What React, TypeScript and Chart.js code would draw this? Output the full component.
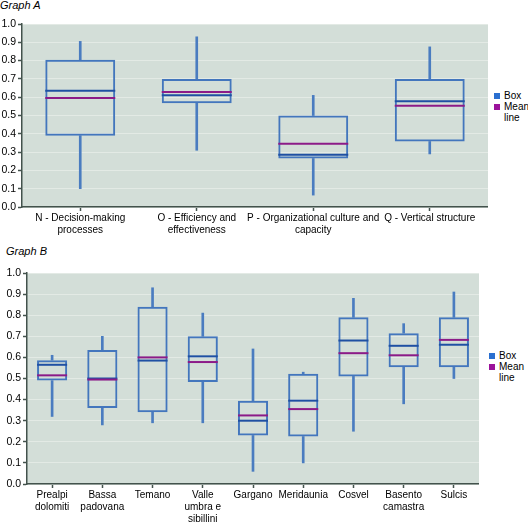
import React, { useEffect, useRef } from "react";
import { Chart, registerables } from "chart.js";

Chart.register(...registerables);

// ---------- Graph A data ----------
const catsA: (string | string[])[] = [
  ["N - Decision-making", "processes"],
  ["O - Efficiency and", "effectiveness"],
  ["P - Organizational culture and", "capacity"],
  "Q - Vertical structure",
];
const minA = [0.1, 0.31, 0.065, 0.29];
const q1A = [0.39, 0.567, 0.265, 0.358];
const medA = [0.635, 0.61, 0.285, 0.578];
const meanA = [0.595, 0.628, 0.345, 0.553];
const q3A = [0.805, 0.7, 0.5, 0.7];
const maxA = [0.905, 0.93, 0.61, 0.875];

// ---------- Graph B data ----------
const catsB: (string | string[])[] = [
  ["Prealpi", "dolomiti"],
  ["Bassa", "padovana"],
  "Temano",
  ["Valle", "umbra e", "sibillini"],
  "Gargano",
  "Meridaunia",
  "Cosvel",
  ["Basento", "camastra"],
  "Sulcis",
];
const minB = [0.32, 0.28, 0.29, 0.29, 0.06, 0.1, 0.25, 0.38, 0.5];
const q1B = [0.49, 0.36, 0.34, 0.483, 0.23, 0.225, 0.51, 0.553, 0.553];
const medB = [0.565, 0.5, 0.585, 0.605, 0.3, 0.395, 0.68, 0.655, 0.66];
const meanB = [0.515, 0.495, 0.6, 0.578, 0.325, 0.355, 0.62, 0.61, 0.683];
const q3B = [0.587, 0.635, 0.84, 0.7, 0.395, 0.523, 0.79, 0.715, 0.79];
const maxB = [0.61, 0.7, 0.93, 0.81, 0.64, 0.53, 0.88, 0.76, 0.91];

const yTicks = [0, 0.1, 0.2, 0.3, 0.4, 0.5, 0.6, 0.7, 0.8, 0.9, 1.0];

const BOX = "#4376bd";
const WHISK = "#4a7cc0";
const MED = "#1f50a3";
const MEAN = "#8c1b88";
const AXIS = "#43524c";
const FONT = "'Liberation Sans', Arial, sans-serif";

const bgPlugin = {
  id: "plotBg",
  beforeDraw(chart: any) {
    const { ctx, chartArea } = chart;
    if (!chartArea) return;
    ctx.save();
    ctx.fillStyle = "#d3ded8";
    ctx.fillRect(chartArea.left, chartArea.top, chartArea.right - chartArea.left, chartArea.bottom - chartArea.top);
    ctx.restore();
  },
};

type BoxProps = {
  labels: (string | string[])[];
  mins: number[];
  q1s: number[];
  meds: number[];
  means: number[];
  q3s: number[];
  maxs: number[];
  width: number;
  height: number;
  yWidth: number;
  xHeight: number;
  padTop: number;
  lineR: number;
  style: React.CSSProperties;
};

function BoxChart(p: BoxProps) {
  const ref = useRef<HTMLCanvasElement | null>(null);
  useEffect(() => {
    if (!ref.current) return;
    const lineDs = (data: number[], color: string) => ({
      type: "line" as const,
      data,
      showLine: false,
      pointStyle: "line",
      pointRadius: p.lineR,
      pointHoverRadius: p.lineR,
      pointBorderColor: color,
      pointBackgroundColor: color,
      pointBorderWidth: 2,
      borderColor: color,
      clip: false,
    });
    const chart = new Chart(ref.current, {
      type: "bar",
      data: {
        labels: p.labels as any,
        datasets: [
          lineDs(p.means, MEAN) as any,
          lineDs(p.meds, MED) as any,
          {
            type: "bar",
            data: p.q1s.map((v, i) => [v, p.q3s[i]]),
            backgroundColor: "rgba(0,0,0,0)",
            borderColor: BOX,
            borderWidth: 2,
            borderSkipped: false,
            grouped: false,
            barPercentage: 0.6,
            categoryPercentage: 1,
          },
          {
            type: "bar",
            data: p.q3s.map((v, i) => [v, p.maxs[i]]),
            backgroundColor: WHISK,
            borderWidth: 0,
            grouped: false,
            barThickness: 2,
          },
          {
            type: "bar",
            data: p.mins.map((v, i) => [v, p.q1s[i]]),
            backgroundColor: WHISK,
            borderWidth: 0,
            grouped: false,
            barThickness: 2,
          },
        ],
      },
      options: {
        responsive: false,
        animation: false,
        events: [],
        layout: { autoPadding: false, padding: { top: p.padTop, right: 0, bottom: 0, left: 0 } },
        plugins: { legend: { display: false }, tooltip: { enabled: false } },
        scales: {
          x: {
            offset: true,
            grid: {
              offset: false,
              drawOnChartArea: false,
              tickLength: 4,
              tickColor: AXIS,
              tickWidth: 1.5,
            },
            border: { color: AXIS, width: 1.5 },
            ticks: {
              color: "#000",
              font: { family: FONT, size: 10, lineHeight: 1.2 },
              padding: 1,
              maxRotation: 0,
              autoSkip: false,
            },
            afterFit: (s: any) => {
              s.height = p.xHeight;
              s.paddingLeft = 0;
              s.paddingRight = 0;
            },
          },
          y: {
            min: 0,
            max: 1,
            afterBuildTicks: (s: any) => {
              s.ticks = yTicks.map((v) => ({ value: v }));
            },
            grid: {
              color: "#e3eae5",
              lineWidth: 1,
              tickLength: 4,
              tickColor: AXIS,
              tickWidth: 1.5,
            },
            border: { color: AXIS, width: 1.5 },
            ticks: {
              color: "#000",
              font: { family: FONT, size: 10.5 },
              padding: 2,
              autoSkip: false,
              callback: (v: any) => Number(v).toFixed(1),
            },
            afterFit: (s: any) => {
              s.width = p.yWidth;
            },
          },
        },
      },
      plugins: [bgPlugin],
    } as any);
    return () => chart.destroy();
  }, []);
  return (
    <canvas
      ref={ref}
      width={p.width}
      height={p.height}
      style={{ position: "absolute", width: p.width, height: p.height, ...p.style }}
    />
  );
}

function Legend({ left, top, gap }: { left: number; top: number; gap: number }) {
  const txt: React.CSSProperties = { position: "absolute", font: `10px ${FONT}`, color: "#000", whiteSpace: "nowrap" };
  const sq: React.CSSProperties = { position: "absolute", width: 6, height: 6 };
  return (
    <div style={{ position: "absolute", left, top }}>
      <div style={{ ...sq, left: 0, top: 0, background: "#2a6fd0" }} />
      <div style={{ ...txt, left: 10, top: -3, lineHeight: `${gap}px` }}>Box</div>
      <div style={{ ...sq, left: 0, top: gap, background: "#9b139b" }} />
      <div style={{ ...txt, left: 10, top: gap - 3, lineHeight: `${gap}px` }}>
        Mean
        <br />
        line
      </div>
    </div>
  );
}

export default function App() {
  return (
    <div style={{ position: "absolute", left: 0, top: 0, width: 528, height: 525, background: "#fff", overflow: "hidden" }}>
      <div style={{ position: "absolute", left: 0, top: -1, font: `italic 11px ${FONT}`, color: "#000" }}>Graph A</div>
      <BoxChart
        labels={catsA}
        mins={minA}
        q1s={q1A}
        meds={medA}
        means={meanA}
        q3s={q3A}
        maxs={maxA}
        width={488}
        height={225}
        yWidth={22}
        xHeight={32}
        padTop={10}
        lineR={35}
        style={{ left: 0, top: 14 }}
      />
      <Legend left={494} top={93} gap={11} />
      <div style={{ position: "absolute", left: 6, top: 245, font: `italic 11px ${FONT}`, color: "#000" }}>Graph B</div>
      <BoxChart
        labels={catsB}
        mins={minB}
        q1s={q1B}
        meds={medB}
        means={meanB}
        q3s={q3B}
        maxs={maxB}
        width={479}
        height={262}
        yWidth={27}
        xHeight={41}
        padTop={10}
        lineR={15}
        style={{ left: 0, top: 263 }}
      />
      <Legend left={489} top={353} gap={11} />
    </div>
  );
}
